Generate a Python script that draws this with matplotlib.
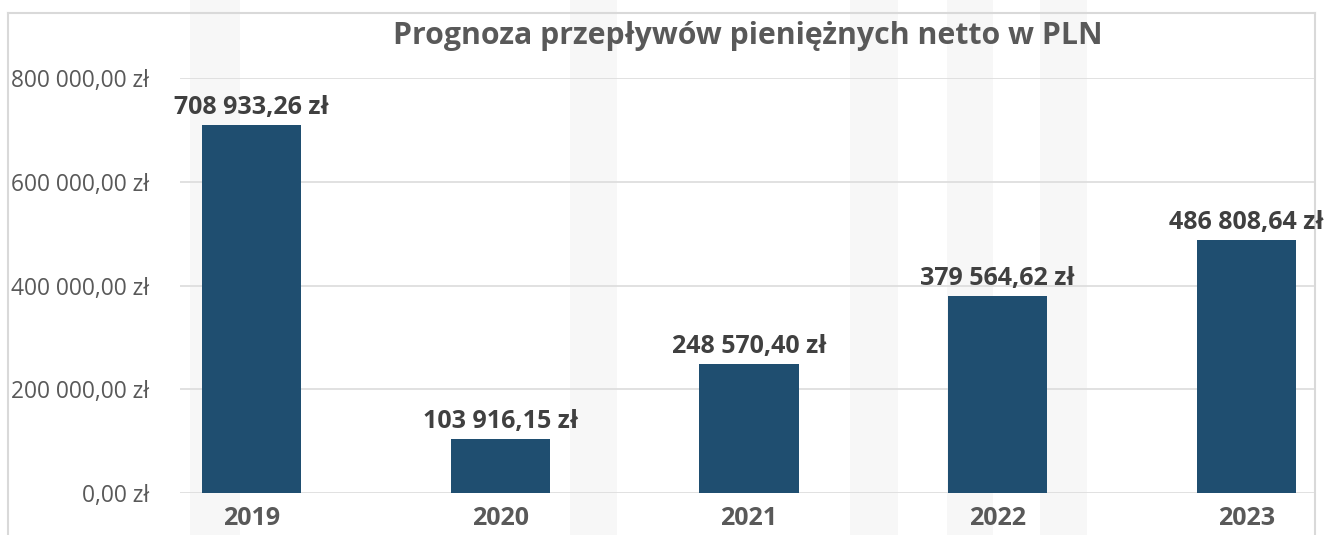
import matplotlib
matplotlib.use("Agg")
import matplotlib.pyplot as plt
from matplotlib.patches import Rectangle
from matplotlib.lines import Line2D

years = ["2019", "2020", "2021", "2022", "2023"]
values = [708933.26, 103916.15, 248570.40, 379564.62, 486808.64]
yticks = [0, 200000, 400000, 600000, 800000]
title = "Prognoza przepływów pieniężnych netto w PLN"

def pln(v):
    s = f"{v:,.2f}".replace(",", " ").replace(".", ",")
    return s + " zł"

W, H = 1324, 535
fig = plt.figure(figsize=(W / 100, H / 100), dpi=100)
fig.patch.set_facecolor("white")

# faint watermark stripes (background decoration)
for x0, x1 in [(190, 240), (570, 617), (850, 898), (947, 993), (1040, 1087)]:
    fig.patches.append(Rectangle((x0 / W, 0), (x1 - x0) / W, 1, transform=fig.transFigure,
                                 facecolor="#f7f7f7", edgecolor="none", zorder=-5))

# chart border
bc = "#d9d9d9"
for xs, ys in [([8, 1315], [522, 522]), ([8, 8], [0, 522]), ([1315, 1315], [0, 522])]:
    fig.lines.append(Line2D([x / W for x in xs], [y / H for y in ys], transform=fig.transFigure,
                            color=bc, lw=1.5, zorder=-4))

left, right, top, bottom = 180, 1314, 78, 493
ax = fig.add_axes([left / W, (H - bottom) / H, (right - left) / W, (bottom - top) / H])
ax.set_facecolor("none")
ax.set_zorder(2)

x = list(range(len(years)))
ax.bar(x, values, width=0.398, color="#1F4E70", zorder=3)
ax.set_xlim(-0.287, 4.271)
ax.set_ylim(0, 800000)

ax.set_yticks(yticks)
ax.set_yticklabels([pln(v) for v in yticks], fontfamily="Open Sans", fontsize=16.4, color="#595959")
ax.tick_params(axis="y", length=0, pad=22)
ax.set_xticks([])
ax.grid(axis="y", color="#d9d9d9", lw=1.1, zorder=1)
for s in ax.spines.values():
    s.set_visible(False)

for xi, v, yr in zip(x, values, years):
    ax.annotate(pln(v), (xi, v), xytext=(0, 8), textcoords="offset points",
                ha="center", va="baseline", fontfamily="Open Sans", fontweight="bold",
                fontsize=18, color="#404040", annotation_clip=False)
    ax.annotate(yr, (xi, 0), xytext=(0, -23), textcoords="offset points",
                ha="center", va="baseline", fontfamily="Open Sans", fontweight="bold",
                fontsize=18, color="#595959", annotation_clip=False)

fig.text(748 / W, 1 - 44 / H, title, ha="center", va="baseline", fontfamily="Open Sans",
         fontweight="bold", fontsize=21.8, color="#595959")

fig.savefig("out.png", dpi=100)
